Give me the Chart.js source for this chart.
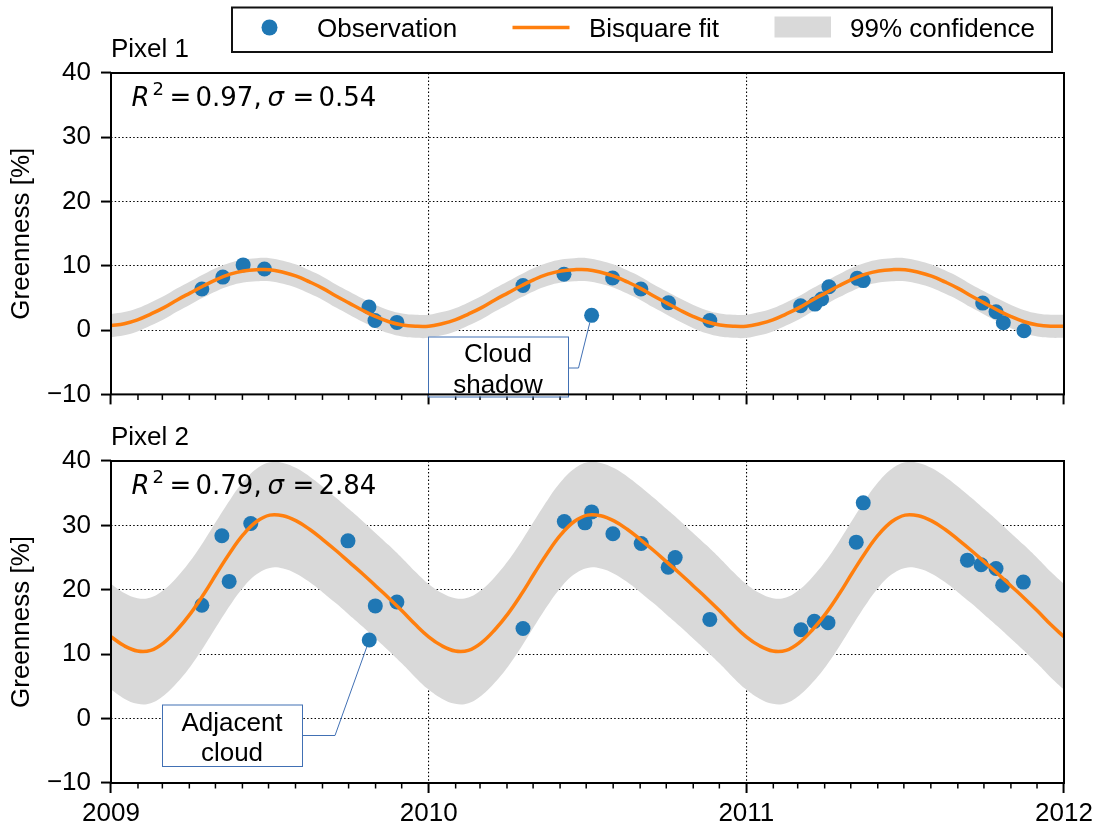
<!DOCTYPE html>
<html><head><meta charset="utf-8">
<script src="https://cdn.jsdelivr.net/npm/chart.js@4.4.1/dist/chart.umd.min.js"></script>
<style>
html,body{margin:0;padding:0;background:#fff;}
#wrap{position:relative;width:1101px;height:827px;background:#fff;overflow:hidden;}
canvas{position:absolute;left:0;}
</style></head><body>
<div id="wrap">
<canvas id="c1" width="1101" height="420" style="top:0px;width:1101px;height:420px"></canvas>
<canvas id="c2" width="1101" height="407" style="top:420px;width:1101px;height:407px"></canvas>
</div>
<script>
// ---------- DATA ----------
const fitT = [
2009.0000,2009.0417,2009.0833,2009.1250,2009.1667,2009.2083,2009.2500,2009.2917,2009.3333,2009.3750,2009.4167,2009.4583,
2009.5000,2009.5417,2009.5833,2009.6250,2009.6667,2009.7083,2009.7500,2009.7917,2009.8333,2009.8750,2009.9167,2009.9583,
2010.0000,2010.0417,2010.0833,2010.1250,2010.1667,2010.2083,2010.2500,2010.2917,2010.3333,2010.3750,2010.4167,2010.4583,
2010.5000,2010.5417,2010.5833,2010.6250,2010.6667,2010.7083,2010.7500,2010.7917,2010.8333,2010.8750,2010.9167,2010.9583,
2011.0000,2011.0417,2011.0833,2011.1250,2011.1667,2011.2083,2011.2500,2011.2917,2011.3333,2011.3750,2011.4167,2011.4583,
2011.5000,2011.5417,2011.5833,2011.6250,2011.6667,2011.7083,2011.7500,2011.7917,2011.8333,2011.8750,2011.9167,2011.9583,
2012.0000];

// Pixel 1
const fit1 = [
0.7,1.0,1.6,2.5,3.5,4.7,5.8,6.9,7.9,8.7,9.2,9.4,9.4,9.0,8.4,7.5,6.5,5.3,4.2,3.1,2.1,1.3,0.8,0.6,
0.6,1.0,1.6,2.5,3.5,4.7,5.8,6.9,7.9,8.7,9.2,9.4,9.4,9.0,8.4,7.5,6.5,5.3,4.2,3.1,2.1,1.3,0.8,0.6,
0.6,1.0,1.6,2.5,3.5,4.7,5.8,6.9,7.9,8.7,9.2,9.4,9.4,9.0,8.4,7.5,6.5,5.3,4.2,3.1,2.1,1.3,0.8,0.6,
0.6];
const upper1 = [
2.5,2.8,3.4,4.3,5.3,6.5,7.6,8.7,9.7,10.5,11.0,11.2,11.2,10.8,10.2,9.3,8.3,7.1,6.0,4.9,3.9,3.1,2.6,2.4,
2.4,2.8,3.4,4.3,5.3,6.5,7.6,8.7,9.7,10.5,11.0,11.2,11.2,10.8,10.2,9.3,8.3,7.1,6.0,4.9,3.9,3.1,2.6,2.4,
2.4,2.8,3.4,4.3,5.3,6.5,7.6,8.7,9.7,10.5,11.0,11.2,11.2,10.8,10.2,9.3,8.3,7.1,6.0,4.9,3.9,3.1,2.6,2.4,
2.4];
const lower1 = [
-1.1,-0.8,-0.2,0.7,1.7,2.9,4.0,5.1,6.1,6.9,7.4,7.6,7.6,7.2,6.6,5.7,4.7,3.5,2.4,1.3,0.3,-0.5,-1.0,-1.2,
-1.2,-0.8,-0.2,0.7,1.7,2.9,4.0,5.1,6.1,6.9,7.4,7.6,7.6,7.2,6.6,5.7,4.7,3.5,2.4,1.3,0.3,-0.5,-1.0,-1.2,
-1.2,-0.8,-0.2,0.7,1.7,2.9,4.0,5.1,6.1,6.9,7.4,7.6,7.6,7.2,6.6,5.7,4.7,3.5,2.4,1.3,0.3,-0.5,-1.0,-1.2,
-1.2];
const obsT1 = [2009.286,2009.352,2009.416,2009.483,2009.812,2009.831,2009.900,2010.297,2010.426,2010.513,2010.579,2010.668,
2010.755,2010.885,2011.171,2011.216,2011.237,2011.260,2011.349,2011.368,2011.744,2011.786,2011.809,2011.874];
const obsV1 = [6.4,8.25,10.15,9.5,3.6,1.5,1.2,6.95,8.7,2.3,8.1,6.4,
4.25,1.5,3.8,4.05,4.85,6.75,8.05,7.7,4.2,2.85,1.15,-0.1];

// Pixel 2
const fit2 = [
12.7,11.3,10.5,10.6,11.8,13.8,16.3,19.3,22.6,25.8,28.6,30.6,31.6,31.5,30.7,29.4,27.8,26.1,24.3,22.5,20.6,18.7,16.7,14.6,
12.7,11.3,10.5,10.6,11.8,13.8,16.3,19.3,22.6,25.8,28.6,30.6,31.6,31.5,30.7,29.4,27.8,26.1,24.3,22.5,20.6,18.7,16.7,14.6,
12.7,11.3,10.5,10.6,11.8,13.8,16.3,19.3,22.6,25.8,28.6,30.6,31.6,31.5,30.7,29.4,27.8,26.1,24.3,22.5,20.6,18.7,16.7,14.6,
12.7];
const upper2 = [
20.9,19.5,18.7,18.8,20.0,22.0,24.5,27.5,30.8,34.0,36.8,38.8,39.8,39.7,38.9,37.6,36.0,34.3,32.5,30.7,28.8,26.9,24.9,22.8,
20.9,19.5,18.7,18.8,20.0,22.0,24.5,27.5,30.8,34.0,36.8,38.8,39.8,39.7,38.9,37.6,36.0,34.3,32.5,30.7,28.8,26.9,24.9,22.8,
20.9,19.5,18.7,18.8,20.0,22.0,24.5,27.5,30.8,34.0,36.8,38.8,39.8,39.7,38.9,37.6,36.0,34.3,32.5,30.7,28.8,26.9,24.9,22.8,
20.9];
const lower2 = [
4.5,3.1,2.3,2.4,3.6,5.6,8.1,11.1,14.4,17.6,20.4,22.4,23.4,23.3,22.5,21.2,19.6,17.9,16.1,14.3,12.4,10.5,8.5,6.4,
4.5,3.1,2.3,2.4,3.6,5.6,8.1,11.1,14.4,17.6,20.4,22.4,23.4,23.3,22.5,21.2,19.6,17.9,16.1,14.3,12.4,10.5,8.5,6.4,
4.5,3.1,2.3,2.4,3.6,5.6,8.1,11.1,14.4,17.6,20.4,22.4,23.4,23.3,22.5,21.2,19.6,17.9,16.1,14.3,12.4,10.5,8.5,6.4,
4.5];
const obsT2 = [2009.286,2009.349,2009.372,2009.440,2009.746,2009.813,2009.832,2009.900,2010.297,2010.427,2010.492,2010.513,
2010.580,2010.669,2010.754,2010.776,2010.885,2011.172,2011.214,2011.257,2011.346,2011.368,2011.696,2011.739,2011.786,2011.807,2011.872];
const obsV2 = [17.6,28.4,21.3,30.3,27.6,12.2,17.5,18.1,14.0,30.6,30.4,32.1,
28.7,27.2,23.5,25.0,15.4,13.8,15.1,14.9,27.4,33.5,24.6,23.9,23.3,20.7,21.2];

const yTickValues = [-10, 0, 10, 20, 30, 40];
const xYears = [2009, 2010, 2011, 2012];
const monthStartDays = [0,31,59,90,120,151,181,212,243,273,304,334];
const panelTitles = ['Pixel 1', 'Pixel 2'];
const r2Text = ['0.97', '0.79'];
const sigmaText = ['0.54', '2.84'];
const legendLabels = ['Observation', 'Bisquare fit', '99% confidence'];
const cloudIndex1 = 9;   // "Cloud shadow" observation in Pixel 1
const cloudIndex2 = 5;   // "Adjacent cloud" observation in Pixel 2

// ---------- STYLE ----------
const BLUE = '#1f77b4', ORANGE = '#ff7f0e', BAND = '#d9d9d9', BOXBLUE = '#4170b4';
const SANS = '"Liberation Sans", Arial, sans-serif';
const DEJAVU = '"DejaVu Sans", sans-serif';

const pts = (xs, ys) => xs.map((x, i) => ({x: x, y: ys[i]}));

function drawR2(ctx, x0, yb, r2, sig) {
  ctx.fillStyle = '#000';
  ctx.textAlign = 'left'; ctx.textBaseline = 'alphabetic';
  ctx.font = 'italic 26px ' + DEJAVU;
  ctx.fillText('R', x0, yb);
  ctx.font = '18px ' + DEJAVU;
  ctx.fillText('2', x0 + 21, yb - 11);
  ctx.font = '26px ' + DEJAVU;
  ctx.fillText('=', x0 + 38, yb);
  ctx.fillText(r2 + ',', x0 + 64, yb);
  ctx.font = 'italic 26px ' + DEJAVU;
  ctx.fillText('\u03c3', x0 + 136, yb);
  ctx.font = '26px ' + DEJAVU;
  ctx.fillText('=', x0 + 161, yb);
  ctx.fillText(sig, x0 + 187, yb);
}

function drawCallout(ctx, box, lines, elbow, target) {
  ctx.save();
  ctx.strokeStyle = BOXBLUE; ctx.lineWidth = 1;
  const dx = target.x - elbow.x2, dy = target.y - elbow.y;
  const d = Math.hypot(dx, dy);
  const ex = target.x - dx / d * 7.5, ey = target.y - dy / d * 7.5;
  ctx.beginPath();
  ctx.moveTo(box.x + box.w, elbow.y);
  ctx.lineTo(elbow.x2, elbow.y);
  ctx.lineTo(ex, ey);
  ctx.stroke();
  ctx.fillStyle = '#fff';
  ctx.fillRect(box.x, box.y, box.w, box.h);
  ctx.strokeRect(box.x + 0.5, box.y + 0.5, box.w, box.h);
  ctx.fillStyle = '#000';
  ctx.font = '26px ' + SANS;
  ctx.textAlign = 'center'; ctx.textBaseline = 'alphabetic';
  lines.forEach(l => ctx.fillText(l.t, box.x + box.w / 2, l.y));
  ctx.restore();
}

function decoPlugin(idx) {
  return {
    id: 'deco' + idx,
    afterDraw(chart) {
      const ctx = chart.ctx, ca = chart.chartArea, xs = chart.scales.x, ys = chart.scales.y;
      ctx.save();
      // minor month ticks
      ctx.strokeStyle = '#000'; ctx.lineWidth = 1.5;
      for (let yr = xYears[0]; yr < xYears[xYears.length - 1]; yr++) {
        for (let m = 1; m < 12; m++) {
          const px = xs.getPixelForValue(yr + monthStartDays[m] / 365);
          ctx.beginPath(); ctx.moveTo(px, ca.bottom); ctx.lineTo(px, ca.bottom + 5.5); ctx.stroke();
        }
      }
      // callouts
      if (idx === 0) {
        const tp = {x: xs.getPixelForValue(obsT1[cloudIndex1]), y: ys.getPixelForValue(obsV1[cloudIndex1])};
        drawCallout(ctx, {x: 428, y: 336.5, w: 140, h: 60},
          [{t: 'Cloud', y: 362}, {t: 'shadow', y: 393}], {x2: 578.5, y: 368}, tp);
      } else {
        const tp = {x: xs.getPixelForValue(obsT2[cloudIndex2]), y: ys.getPixelForValue(obsV2[cloudIndex2])};
        drawCallout(ctx, {x: 162, y: 284.5, w: 140, h: 61.5},
          [{t: 'Adjacent', y: 310.5}, {t: 'cloud', y: 340.5}], {x2: 335, y: 315.5}, tp);
      }
      // frame (spines)
      ctx.strokeStyle = '#000'; ctx.lineWidth = 2;
      ctx.strokeRect(ca.left, ca.top, ca.right - ca.left, ca.bottom - ca.top);
      // panel title
      ctx.fillStyle = '#000'; ctx.font = '26px ' + SANS;
      ctx.textAlign = 'left'; ctx.textBaseline = 'alphabetic';
      ctx.fillText(panelTitles[idx], ca.left, ca.top - 16);
      // stats
      drawR2(ctx, ca.left + 20.5, ca.top + 32.5, r2Text[idx], sigmaText[idx]);
      // legend (top panel only)
      if (idx === 0) {
        ctx.fillStyle = '#fff'; ctx.fillRect(232, 8, 820, 43);
        ctx.strokeStyle = '#111'; ctx.lineWidth = 2;
        ctx.strokeRect(232, 7.5, 820, 44.5);
        ctx.fillStyle = BLUE; ctx.beginPath(); ctx.arc(269.5, 27.5, 8, 0, Math.PI * 2); ctx.fill();
        ctx.strokeStyle = ORANGE; ctx.lineWidth = 3.5;
        ctx.beginPath(); ctx.moveTo(512.5, 27.5); ctx.lineTo(569.5, 27.5); ctx.stroke();
        ctx.fillStyle = BAND; ctx.fillRect(774.5, 16.5, 56.5, 21);
        ctx.fillStyle = '#000'; ctx.font = '26px ' + SANS;
        ctx.fillText(legendLabels[0], 317, 36.5);
        ctx.fillText(legendLabels[1], 589, 36.5);
        ctx.fillText(legendLabels[2], 850, 36.5);
      }
      ctx.restore();
    }
  };
}

function makeChart(id, idx, fit, up, lo, oT, oV, padTop, xHeight) {
  const tickFont = {family: SANS, size: 26};
  const dotted = [1.5, 2.2];
  return new Chart(document.getElementById(id), {
    type: 'line',
    data: {
      datasets: [
        {label: 'upper', data: pts(fitT, up), borderWidth: 0, pointRadius: 0, fill: '+1',
         backgroundColor: BAND, borderColor: 'rgba(0,0,0,0)', tension: 0.4, order: 3},
        {label: 'lower', data: pts(fitT, lo), borderWidth: 0, pointRadius: 0, fill: false,
         borderColor: 'rgba(0,0,0,0)', tension: 0.4, order: 4},
        {label: 'Observation', data: pts(oT, oV), showLine: false, pointRadius: 7.5,
         pointBackgroundColor: BLUE, pointBorderWidth: 0, backgroundColor: BLUE, order: 2},
        {label: 'Bisquare fit', data: pts(fitT, fit), borderColor: ORANGE, borderWidth: 3.5,
         pointRadius: 0, fill: false, tension: 0.4, order: 1}
      ]
    },
    options: {
      responsive: false, animation: false, events: [],
      devicePixelRatio: 1,
      layout: {padding: {left: 0, right: 37, top: padTop, bottom: 0}},
      plugins: {legend: {display: false}, tooltip: {enabled: false}, title: {display: false}},
      scales: {
        x: {
          type: 'linear', min: xYears[0], max: xYears[xYears.length - 1],
          afterBuildTicks: s => { s.ticks = xYears.map(v => ({value: v})); },
          afterFit: s => { s.height = xHeight; },
          grid: {color: '#000', lineWidth: 1.1, borderDash: dotted, drawTicks: true, tickLength: 10,
                 tickColor: '#000', tickWidth: 2, tickBorderDash: []},
          border: {display: false, dash: dotted},
          ticks: {font: tickFont, color: '#000', padding: 5, maxRotation: 0,
                  callback: v => idx === 1 ? String(v) : ''}
        },
        y: {
          type: 'linear', min: yTickValues[0], max: yTickValues[yTickValues.length - 1],
          afterBuildTicks: s => { s.ticks = yTickValues.map(v => ({value: v})); },
          afterFit: s => { s.width = 111; },
          grid: {color: '#000', lineWidth: 1.1, borderDash: dotted, drawTicks: true, tickLength: 10,
                 tickColor: '#000', tickWidth: 2, tickBorderDash: []},
          border: {display: false, dash: dotted},
          title: {display: true, text: 'Greenness [%]', font: {family: SANS, size: 26}, color: '#000',
                  padding: {top: 6, bottom: 0}},
          ticks: {font: tickFont, color: '#000', padding: 10,
                  callback: v => v < 0 ? '\u2212' + Math.abs(v) : String(v)}
        }
      }
    },
    plugins: [decoPlugin(idx)]
  });
}

makeChart('c1', 0, fit1, upper1, lower1, obsT1, obsV1, 73, 23);
makeChart('c2', 1, fit2, upper2, lower2, obsT2, obsV2, 41, 44);
</script>
</body></html>
